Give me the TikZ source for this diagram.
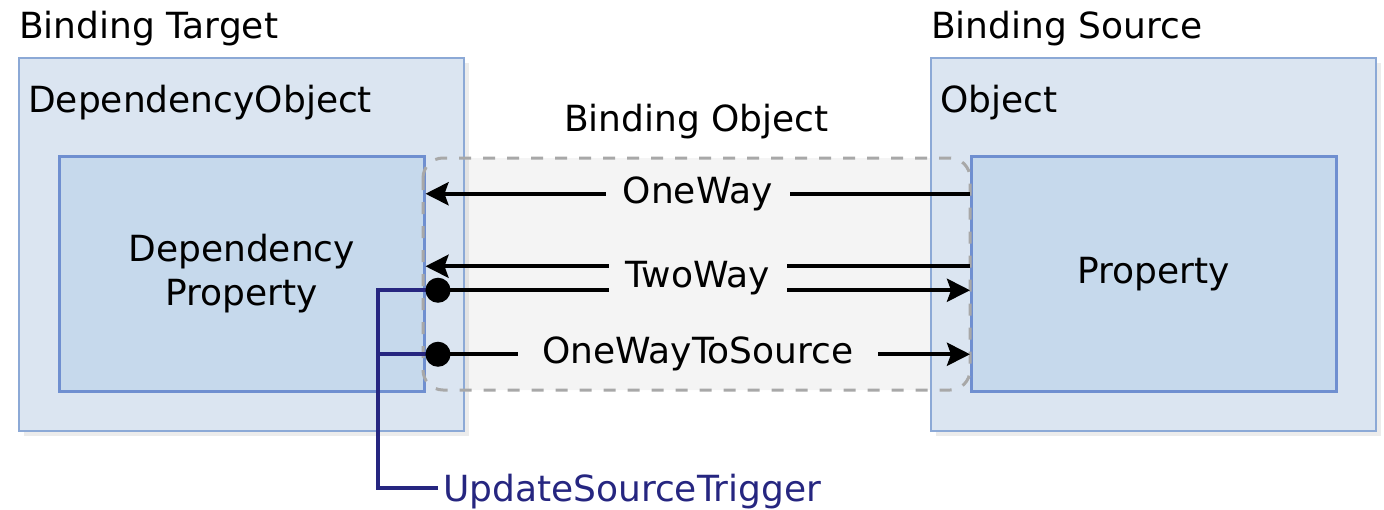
\documentclass[tikz,border=0pt]{standalone}
\usepackage{fontspec}
\setmainfont{DejaVu Sans}
\usepackage{tikz}
\usetikzlibrary{arrows.meta, positioning, shadows}
\usepackage{xcolor}

\definecolor{outerblue}{RGB}{219,229,241}
\definecolor{outeredge}{RGB}{140,169,214}
\definecolor{innerblue}{RGB}{198,217,236}
\definecolor{inneredge}{RGB}{111,143,208}
\definecolor{bindgray}{RGB}{244,244,244}
\definecolor{dashgray}{RGB}{168,168,168}
\definecolor{triggerblue}{RGB}{38,38,128}

\begin{document}
\begin{tikzpicture}[
    x=1pt, y=-1pt,
    every node/.style={font=\fontsize{36}{44}\selectfont, inner sep=0pt},
    outerbox/.style={draw=outeredge, line width=2pt, fill=outerblue, minimum width=445pt, minimum height=373pt, anchor=north west,
        drop shadow={shadow xshift=5pt, shadow yshift=-5pt, opacity=0.15}},
    innerbox/.style={draw=inneredge, line width=2.5pt, fill=innerblue, minimum width=365pt, minimum height=235pt, anchor=north west, align=center},
    bindbox/.style={fill=bindgray, rounded corners=20pt, minimum width=547pt, minimum height=232pt, anchor=north west, outer sep=0pt},
    bindedge/.style={draw=dashgray, line width=3pt, dash pattern=on 12pt off 12pt, rounded corners=20pt},
    flow/.style={line width=4pt, -{Stealth[length=23pt, width=23pt, inset=4pt]}},
    dotflow/.style={line width=4pt, {Circle[length=25pt]}-{Stealth[length=23pt, width=23pt, inset=4pt]}},
    flowtext/.style={fill=bindgray, inner xsep=17pt, inner ysep=3pt},
    trigger/.style={draw=triggerblue, line width=4pt},
    triggertext/.style={text=triggerblue, outer xsep=5pt}
]
\useasboundingbox (0,0) rectangle (1384,509);

\node[bindbox] (binding) at (423,158) {};

\node[outerbox] (target) at (18,57) {};
\node[outerbox] (source) at (930,57) {};
\node[innerbox] (dp) at (58,155) {Dependency\\Property};
\node[innerbox] (prop) at (970,155) {Property};

\draw[bindedge] (binding.north west) rectangle (binding.south east);

\node[above right=11pt and 1pt of target.north west] (targettitle) {Binding Target};
\node[above right=11pt and 1pt of source.north west] (sourcetitle) {Binding Source};
\node[below right=28pt and 10pt of target.north west] (depobj) {DependencyObject};
\node[below right=28pt and 10pt of source.north west] (obj) {Object};
\node[above=19pt of binding.north] (bindtitle) {Binding Object};

% flow levels on both sides
\coordinate (twl) at ([yshift=-16.5pt]dp.east);
\coordinate (owsl) at ([yshift=-80.5pt]dp.east);
\coordinate (twr) at ([yshift=-16.5pt]prop.west);
\coordinate (owsr) at ([yshift=-80.5pt]prop.west);

% UpdateSourceTrigger bracket
\coordinate (corner) at (378,488);
\node[triggertext, right=60pt of corner, yshift=-3.5pt] (ust) {UpdateSourceTrigger};
\draw[trigger] (ust.west |- corner) -- (corner) |- (twl);
\draw[trigger] (corner |- owsl) -- (owsl);

\draw[flow] ([yshift=80pt]prop.west) -- node[flowtext] {OneWay} ([yshift=80pt]dp.east);
\draw[dotflow] (twl) -- (twr);
\draw[flow] ([yshift=7.5pt]prop.west) -- node[flowtext, yshift=-12pt] {TwoWay} ([yshift=7.5pt]dp.east);
\draw[dotflow] (owsl) -- node[flowtext, inner xsep=24pt] {OneWayToSource} (owsr);
\end{tikzpicture}
\end{document}
